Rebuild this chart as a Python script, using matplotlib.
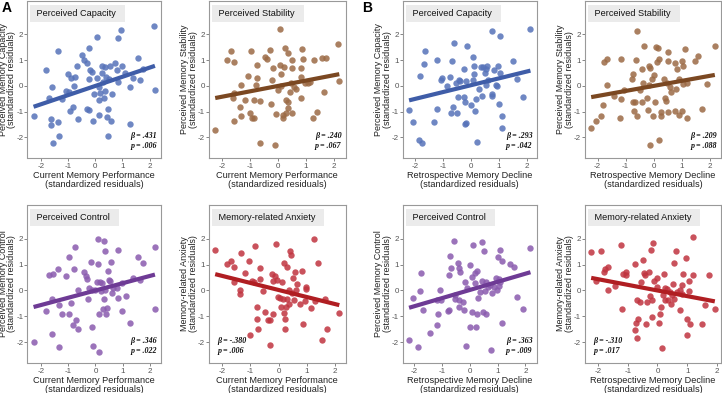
import numpy as np
import matplotlib
matplotlib.use("Agg")
import matplotlib.pyplot as plt

plt.rcParams['font.family'] = ['Liberation Sans', 'DejaVu Sans']

# ---- data (standardized residuals) ----
# A: current memory performance vs perceived capacity
a_cap_x = [-2.28, -1.83, -1.59, -1.7, -1.62, -1.62, -1.58, -1.37, -1.38, -1.35, -1.22, -1.1, -1.02, -0.98, -0.93,
           -0.89, -0.84, -0.79, -0.74, -0.66, -0.63, -0.48, -0.41, -0.31, -0.3, -0.25, -0.24, -0.22, -0.2, -0.12,
           -0.1, -0.05, 0.06, 0.07, 0.12, 0.12, 0.14, 0.18, 0.23, 0.24, 0.29, 0.31, 0.34, 0.36, 0.38, 0.42, 0.46,
           0.48, 0.5, 0.54, 0.57, 0.62, 0.74, 0.79, 0.84, 0.84, 0.96, 0.98, 1.11, 1.27, 1.29, 1.4, 1.57, 1.65,
           1.77, 2.18, 2.2]
a_cap_y = [-1.15, 0.61, -0.05, -0.45, -1.27, -1.53, -2.22, 1.35, -1.41, -1.96, -0.51, -0.19, 0.48, -0.25, -0.96,
           0.32, -0.83, 0.0, 0.33, 0.76, -1.27, 1.22, 0.99, 0.89, -0.89, -0.92, 1.48, 0.27, 0.61, 0.54,
           -1.36, -0.32, 0.29, 1.89, -0.05, -0.54, -1.11, -0.28, 0.51, 0.76, 0.14, -0.45, -0.18, 0.74, 0.33, -1.2, -1.96,
           -0.88, 0.27, 0.76, -1.36, -0.32, 0.89, 0.61, 1.86, 0.17, 2.19, 0.76, 0.51, -1.49, -0.05, 0.29, 1.1, 0.23,
           0.64, 2.34, -0.15]

# A: current memory performance vs perceived stability
a_stab_x = [-2.26, -1.83, -1.68, -1.58, -1.61, -1.58, -1.59, -1.37, -1.35, -1.35, -1.18, -1.07, -1.01, -0.96, -0.92,
            -0.85, -0.87, -0.78, -0.75, -0.74, -0.66, -0.66, -0.48, -0.39, -0.3, -0.27, -0.23, -0.18, -0.12, -0.08,
            0.0, 0.06, 0.08, 0.12, 0.12, 0.16, 0.18, 0.2, 0.25, 0.28, 0.3, 0.34, 0.36, 0.36, 0.42, 0.46, 0.49,
            0.49, 0.51, 0.56, 0.63, 0.84, 0.84, 0.85, 0.81, 0.9, 0.96, 1.08, 1.13, 1.25, 1.3, 1.4, 1.57, 1.66,
            1.74, 2.17, 2.2]
a_stab_y = [-1.71, 0.99, 1.35, 0.92, -0.45, -0.28, -1.35, -0.83, 0.04, -1.15, -0.54, 0.38, -1.07, 1.34, -1.24,
            -1.26, -0.56, 0.04, 0.83, 0.32, -0.59, -2.23, 1.12, 1.04, 1.4, -0.69, 0.23, 0.68, -2.28, -1.08,
            -0.15, 0.82, 2.22, 0.46, 0.01, -1.12, -1.24, 0.74, 1.48, -0.54, -1.04, 1.27, -0.62, -0.85, -0.25, 0.13, 1.02,
            0.7, -1.04, -0.05, -0.13, -0.45, 0.68, 1.44, 0.36, 1.04, 0.13, 0.13, 0.17, -1.24, 0.99, -1.02, 1.08, -0.25,
            1.07, 1.63, 0.18]

# A: current memory performance vs perceived control
a_ctrl_x = [-2.28, -1.82, -1.7, -1.56, -1.59, -1.59, -1.38, -1.34, -1.35, -1.22, -1.08, -0.99, -0.96, -0.9, -0.84,
            -0.78, -0.75, -0.72, -0.66, -0.66, -0.42, -0.34, -0.3, -0.26, -0.22, -0.18, -0.14, -0.12, -0.08, 0.0,
            0.05, 0.1, 0.11, 0.12, 0.14, 0.18, 0.22, 0.24, 0.26, 0.3, 0.31, 0.34, 0.36, 0.4, 0.42, 0.46, 0.48,
            0.54, 0.56, 0.6, 0.66, 0.84, 0.84, 0.96, 0.98, 1.13, 1.26, 1.38, 1.56, 1.65, 1.74, 2.18, 2.19, 0.78]
a_ctrl_y = [-1.99, -0.81, 0.58, 0.64, -0.32, -1.67, 0.82, -0.58, -2.18, -0.92, 0.56, 1.31, -0.92, -0.49, -1.35,
            0.82, 1.69, -1.13, -1.47, 0.03, 0.71, 0.54, 0.44, -0.33, 0.1, 1.09, 0.03, -1.41, -2.15, 0.03,
            0.31, 1.99, 1.03, -0.9, -2.37, 0.31, -0.03, 0.28, -0.71, -0.32, 1.9, 1.51, 0.0, -0.9, -0.67, 0.74, 0.41,
            0.36, 1.09, -0.1, 0.1, 1.56, -0.28, 0.28, -0.79, -0.23, -1.26, 0.49, 1.31, 0.41, 1.05, 1.67, -0.71, 0.1]

# A: current memory performance vs memory-related anxiety
a_anx_x = [-2.26, -1.83, -1.68, -1.58, -1.58, -1.35, -1.37, -1.37, -1.18, -1.07, -1.01, -0.94, -0.87, -0.84, -0.78,
           -0.78, -0.72, -0.66, -0.66, -0.56, -0.48, -0.39, -0.3, -0.3, -0.24, -0.2, -0.18, -0.12, -0.08, -0.06,
           -0.01, 0.06, 0.1, 0.12, 0.16, 0.18, 0.2, 0.22, 0.24, 0.25, 0.3, 0.32, 0.36, 0.37, 0.42, 0.46, 0.48,
           0.5, 0.54, 0.6, 0.63, 0.78, 0.84, 0.86, 0.93, 0.97, 0.99, 1.16, 1.25, 1.31, 1.4, 1.66, 1.73, 1.56,
           2.17, 0.66]
a_anx_y = [1.56, 1.03, 1.12, 0.9, 0.32, 1.44, 0.0, -0.13, 0.67, 1.13, -1.71, 0.38, 0.32, 1.71, -0.64,
           -1.12, -1.47, 0.87, 0.45, -0.03, -0.83, -1.15, -1.15, -2.09, 0.62, 0.38, -0.92, 0.54, 1.79, 0.41,
           -0.26, -0.28, -0.64, 0.32, -0.32, -0.87, 1.08, -1.12, -1.47, -0.62, -0.32, 0.92, -0.54, 0.03, 1.51, 1.38, -0.1,
           0.49, -0.36, 0.71, 0.0, -0.54, 0.74, -1.28, -0.41, 0.13, 0.06, -0.67, 1.99, -0.41, 1.05, -0.32, -1.47, -1.92,
           -0.87, 0.26]

# B: retrospective memory decline vs perceived capacity
b_cap_x = [-2.23, -2.08, -1.89, -1.78, -1.82, -1.71, -1.66, -1.32, -1.22, -1.21, -1.09, -1.05, -0.85, -0.77, -0.73,
           -0.68, -0.64, -0.61, -0.54, -0.5, -0.47, -0.44, -0.39, -0.26, -0.25, -0.23, -0.19, -0.19, -0.21, -0.15,
           0.0, 0.05, 0.08, 0.09, 0.11, 0.14, 0.16, 0.22, 0.28, 0.35, 0.4, 0.43, 0.49, 0.53, 0.55, 0.57, 0.61,
           0.76, 0.76, 0.82, 0.89, 0.94, 0.98, 1.02, 1.01, 1.05, 1.1, 1.1, 1.52, 1.64, 1.85, 2.13, 0.74]
b_cap_y = [-0.95, -1.4, -2.12, -2.22, 0.38, 0.85, 1.37, -1.4, -0.91, 0.99, 0.23, 0.32, 0.0, 0.36, -1.07,
           0.96, -0.81, 1.65, 0.1, -1.04, -0.43, 0.23, 0.19, -0.43, 0.67, -1.49, 0.2, -1.45, -0.64, 1.56,
           -0.76, 0.23, 1.12, 0.79, 0.46, -0.98, -0.51, -2.16, -0.13, 0.74, -0.38, 0.74, 0.51, 0.67, 0.03, 0.76, 0.23,
           -0.3, 2.13, 0.63, 0.04, 0.0, 0.76, 0.51, -0.72, 1.94, -1.17, -1.65, 0.96, 0.25, -0.44, 2.23, -0.41]

# B: retrospective memory decline vs perceived stability
b_stab_x = [-2.23, -2.07, -1.89, -1.8, -1.78, -1.68, -1.66, -1.4, -1.2, -1.18, -1.16, -1.07, -0.73, -0.76, -0.75,
            -0.69, -0.65, -0.63, -0.59, -0.59, -0.47, -0.4, -0.41, -0.36, -0.33, -0.24, -0.21, -0.18, -0.15, -0.14,
            -0.14, -0.06, -0.02, 0.0, 0.06, 0.09, 0.14, 0.15, 0.18, 0.21, 0.26, 0.26, 0.38, 0.41, 0.44, 0.47, 0.5,
            0.53, 0.53, 0.59, 0.62, 0.75, 0.77, 0.8, 0.85, 0.91, 1.01, 1.01, 1.04, 1.07, 1.11, 1.18, 1.18, 1.48,
            1.6, 1.72, 1.92, 2.19, 0.92]
b_stab_y = [-1.63, -1.38, -1.16, -0.74, 0.92, 1.06, 0.04, -0.38, -1.26, 1.04, -0.51, -0.15, -0.64, 0.28, 0.46,
            -0.98, -0.64, 1.01, -1.17, 2.12, -0.15, 0.64, -0.63, 0.13, 1.57, -0.47, -0.92, 0.04, 0.77, 0.68,
            -2.28, 0.26, -1.17, 0.42, -0.63, 1.5, 0.93, 1.46, 1.05, -2.09, -1.17, -1.02, 0.26, -0.47, -0.6, 0.13, 0.95,
            1.32, -1.02, -0.05, -0.25, -0.98, 0.89, -0.13, 0.64, -1.11, 0.95, -0.98, 0.77, 0.08, 1.44, -1.26, 0.13, 0.97,
            1.18, -0.89, 0.08, 1.57, 0.26]

# B: retrospective memory decline vs perceived control
b_ctrl_x = [-2.19, -2.05, -1.87, -1.8, -1.77, -1.69, -1.42, -1.18, -1.2, -1.15, -1.06, -1.03, -0.79, -0.77, -0.74,
            -0.71, -0.67, -0.59, -0.55, -0.53, -0.44, -0.41, -0.39, -0.39, -0.35, -0.24, -0.2, -0.18, -0.15, -0.12,
            0.0, 0.0, 0.06, 0.09, 0.12, 0.18, 0.2, 0.22, 0.25, 0.27, 0.29, 0.35, 0.44, 0.45, 0.47, 0.51, 0.53,
            0.57, 0.59, 0.65, 0.71, 0.77, 0.79, 0.88, 0.94, 0.98, 1.0, 1.04, 1.06, 1.1, 1.14, 1.17, 1.45, 1.59,
            1.71, 1.91, 2.18, 1.1]
b_ctrl_y = [-1.92, -0.29, -2.17, -0.03, 0.67, -0.77, -1.63, -0.36, -1.35, -0.9, 0.0, -0.38, -0.79, 0.58, -0.74,
            1.35, 0.87, 1.92, -0.19, -0.32, 1.05, -0.36, 0.87, -0.64, 0.71, -0.45, -0.74, 0.32, -2.15, 0.1,
            1.0, -1.41, -0.83, 0.51, 1.76, 0.67, 0.28, -1.41, -0.9, 0.77, -0.28, -0.06, 1.86, 0.36, -0.83, 1.51, -0.03,
            -0.92, 0.32, 0.15, 0.23, -2.31, -0.1, 0.15, 0.49, 0.0, 1.28, 0.45, 0.19, 1.56, -1.26, 1.13, 1.03, 0.9,
            -0.26, -0.72, 1.64, 0.32]

# B: retrospective memory decline vs memory-related anxiety
b_anx_x = [-2.23, -2.07, -1.9, -1.81, -1.77, -1.68, -1.67, -1.43, -1.21, -1.19, -1.15, -1.05, -1.07, -0.77, -0.74,
           -0.71, -0.69, -0.68, -0.65, -0.6, -0.56, -0.48, -0.45, -0.42, -0.38, -0.36, -0.3, -0.24, -0.21, -0.18,
           -0.18, -0.14, -0.12, -0.02, 0.0, 0.06, 0.1, 0.12, 0.14, 0.18, 0.21, 0.24, 0.26, 0.33, 0.36, 0.42, 0.44,
           0.48, 0.51, 0.54, 0.57, 0.62, 0.65, 0.75, 0.77, 0.83, 0.83, 0.87, 0.95, 0.99, 1.01, 1.05, 1.07, 1.1,
           1.19, 1.21, 1.49, 1.61, 1.73, 1.93]
b_anx_y = [1.47, 0.38, 1.51, 0.71, 0.83, 0.9, 0.0, 0.19, 1.77, -0.71, 0.62, 0.71, 0.58, 1.03, -1.51,
           -1.26, -0.36, -1.82, -1.09, -0.45, 0.31, 1.18, 0.67, 0.58, -1.31, -0.45, 0.71, -0.23, 1.56, -0.36,
           -1.03, 1.82, 0.36, 0.49, 0.15, -1.26, -0.92, -0.64, -2.22, -0.19, 0.62, -0.36, 0.1, 0.06, -0.38, -0.06, -0.54,
           -0.19, 0.26, 1.05, -0.32, 1.51, -0.06, 0.03, -0.77, -0.15, 0.23, 0.62, 1.24, -1.09, -1.73, -0.03, 0.38, -1.31,
           2.08, 0.58, -1.31, -0.58, 0.58, -0.71]

# fitted lines (slope, intercept) as drawn
fits = [(0.355, 0.0), (0.208, 0.0), (0.265, 0.03), (0.195, 0.0),
        (0.28, 0.0), (-0.27, 0.02), (0.314, 0.02), (-0.218, 0.0)]
betas = ['.431', '.240', '.293', '.209', '.346', '-.380', '.363', '-.310']
pvals = ['.006', '.067', '.042', '.088', '.022', '.006', '.009', '.017']
titles = ['Perceived Capacity', 'Perceived Stability', 'Perceived Capacity', 'Perceived Stability',
          'Perceived Control', 'Memory-related Anxiety', 'Perceived Control', 'Memory-related Anxiety']
ylabels = ['Perceived Memory Capacity', 'Perceived Memory Stability', 'Perceived Memory Capacity',
           'Perceived Memory Stability', 'Perceived Memory Control', 'Memory-related Anxiety',
           'Perceived Memory Control', 'Memory-related Anxiety']
xlabels = ['Current Memory Performance', 'Current Memory Performance', 'Retrospective Memory Decline',
           'Retrospective Memory Decline'] * 2
xs = [a_cap_x, a_stab_x, b_cap_x, b_stab_x, a_ctrl_x, a_anx_x, b_ctrl_x, b_anx_x]
ys = [a_cap_y, a_stab_y, b_cap_y, b_stab_y, a_ctrl_y, a_anx_y, b_ctrl_y, b_anx_y]

dot_colors = ['#5672B9', '#9B6A45', '#5672B9', '#9B6A45', '#8A5BAE', '#C0343F', '#8A5BAE', '#C0343F']
line_colors = ['#3F5DA8', '#7B4822', '#3F5DA8', '#7B4822', '#6E3B95', '#B01E22', '#6E3B95', '#B01E22']

W, H = 722, 393
fig = plt.figure(figsize=(W / 100, H / 100), dpi=100)

# pixel boxes (left, right, top, bottom)
cols = [(27.5, 161), (209, 345.5), (403, 536.5), (585, 721)]
rows = [(1, 158), (205, 363)]

for i in range(8):
    r, c = divmod(i, 4)
    l, rr = cols[c]
    t, b = rows[r]
    ax = fig.add_axes([l / W, 1 - b / H, (rr - l) / W, (b - t) / H])
    x = np.array(xs[i])
    y = np.array(ys[i])
    ax.scatter(x, y, s=21, color=dot_colors[i], alpha=0.85, linewidths=0, zorder=2)
    m, k = fits[i]
    xx = np.array([x.min(), x.max()])
    ax.plot(xx, m * xx + k, color=line_colors[i], lw=3.0, solid_capstyle='butt', zorder=3)

    ax.set_ylim(-2.8, 3.3)
    ax.margins(x=0.05)
    ax.set_xticks([-2, -1, 0, 1, 2])
    ax.set_yticks([-2, -1, 0, 1, 2])
    ax.set_xticklabels(['-2', '-1', '0', '1', '2'])
    ax.set_yticklabels(['-2', '-1', '0', '1', '2'])
    ax.tick_params(labelsize=5.8, colors='#555555', length=2, width=0.5, pad=1.5)
    ax.tick_params(axis='y', pad=1)
    for s in ax.spines.values():
        s.set_color('#999999')
        s.set_linewidth(0.8)

    ax.set_xlabel(xlabels[i] + '\n(standardized residuals)', fontsize=6.6, color='#222222',
                  labelpad=1, linespacing=0.95)
    ax.set_ylabel(ylabels[i] + '\n(standardized residuals)', fontsize=6.5, color='#222222',
                  labelpad=0, linespacing=0.92)

    ax.text(0.05, 0.92, ' ' + titles[i] + '  ', transform=ax.transAxes, fontsize=6.6,
            color='#111111', va='center', ha='left',
            bbox=dict(boxstyle='square,pad=0.45', facecolor='#EBEBEB', edgecolor='none'))

    if m < 0:
        sx, ha = 0.06, 'left'
    else:
        sx, ha = 0.97, 'right'
    ax.text(sx, 0.05, 'β = ' + betas[i] + '\np = ' + pvals[i], transform=ax.transAxes,
            fontsize=5.8, family=['Liberation Serif', 'DejaVu Serif'], fontweight='bold',
            style='italic', ha=ha, va='bottom', linespacing=1.3, color='#111111')

fig.text(2 / W, 1 - 12 / H, 'A', fontsize=10, fontweight='bold')
fig.text(362 / W, 1 - 12 / H, 'B', fontsize=10, fontweight='bold')

fig.savefig('out.png', dpi=100)
